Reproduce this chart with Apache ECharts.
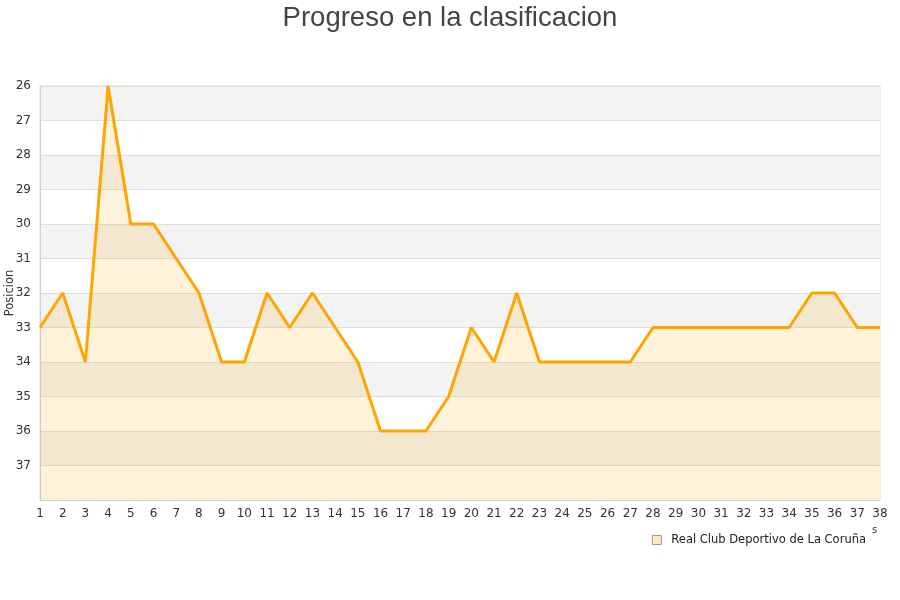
<!DOCTYPE html>
<html>
<head>
<meta charset="utf-8">
<script src="https://cdn.jsdelivr.net/npm/echarts@6/dist/echarts.min.js"></script>
<style>html,body{margin:0;padding:0;background:#fff}#c{width:900px;height:600px}</style>
</head>
<body>
<div id="c"></div>
<script>
var jornadas = ['1','2','3','4','5','6','7','8','9','10','11','12','13','14','15','16','17','18','19','20','21','22','23','24','25','26','27','28','29','30','31','32','33','34','35','36','37','38'];
var posiciones = [33,32,34,26,30,30,31,32,34,34,32,33,32,33,34,36,36,36,35,33,34,32,34,34,34,34,34,33,33,33,33,33,33,33,32,32,33,33];
var seriesName = 'Real Club Deportivo de La Coruña';
var yLabels = ['26','27','28','29','30','31','32','33','34','35','36','37'];

var chart = echarts.init(document.getElementById('c'));
chart.setOption({
  animation: false,
  title: {
    text: 'Progreso en la clasificacion',
    left: 'center', top: -1,
    textStyle: { fontFamily: 'Liberation Sans', fontSize: 27.5, fontWeight: 'normal', color: '#444' }
  },
  legend: {
    right: 29, top: 529,
    itemWidth: 9, itemHeight: 9, icon: 'rect',
    textStyle: { fontFamily: 'DejaVu Sans', fontSize: 11.5, color: '#222', padding: [0, 0, 0, 5] },
    data: [{ name: seriesName, itemStyle: { color: 'rgba(255,165,0,0.25)', borderColor: '#999', borderWidth: 1 } }]
  },
  grid: { left: 40, right: 20, top: 86, bottom: 100, containLabel: false, outerBoundsMode: 'none', show: true, borderColor: '#d9d9d9', borderWidth: 1, backgroundColor: 'transparent' },
  xAxis: {
    type: 'category', data: jornadas, boundaryGap: false,
    axisLine: { lineStyle: { color: '#d0d0d0' } },
    axisTick: { show: false },
    axisLabel: { interval: 0, fontFamily: 'DejaVu Sans', fontSize: 12, color: '#333', margin: 8 },
    splitLine: { show: false }
  },
  yAxis: {
    type: 'value', inverse: true, min: 26, max: 38, interval: 1,
    name: 'Posicion', nameLocation: 'middle', nameGap: 24, nameRotate: 90, nameMoveOverlap: false,
    nameTextStyle: { fontFamily: 'DejaVu Sans', fontSize: 11.5, color: '#333' },
    axisLine: { show: true, lineStyle: { color: '#d0d0d0' } },
    axisTick: { show: false },
    axisLabel: {
      fontFamily: 'DejaVu Sans', fontSize: 12, color: '#333', margin: 9,
      formatter: function (v) { return yLabels.indexOf(String(v)) >= 0 ? String(v) : ''; }
    },
    splitLine: { show: true, lineStyle: { color: '#dedede' } },
    splitArea: { show: true, areaStyle: { color: ['#f3f3f3', '#ffffff'] } }
  },
  series: [{
    name: seriesName, type: 'line', data: posiciones,
    showSymbol: false, symbol: 'none',
    lineStyle: { color: '#ffa500', width: 3 },
    itemStyle: { color: '#ffa500' },
    areaStyle: { color: 'rgba(255,165,0,0.2)', origin: 'end' }
  }],
  graphic: [{
    type: 'text', left: 872, top: 525,
    style: { text: 's', fontFamily: 'DejaVu Sans', fontSize: 10, fill: '#333' }
  }]
});
</script>
</body>
</html>
